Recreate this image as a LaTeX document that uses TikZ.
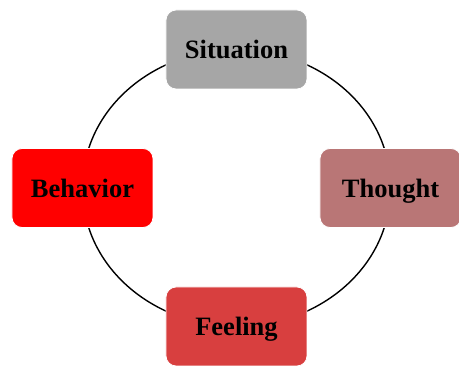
\documentclass[tikz,border=0pt]{standalone}
\usepackage{fontspec}
\setmainfont{Liberation Serif}
\usetikzlibrary{backgrounds}
\definecolor{sitgray}{HTML}{A6A6A6}
\definecolor{thored}{HTML}{B97676}
\definecolor{feelred}{HTML}{D83F3F}
\definecolor{behred}{HTML}{FF0000}
\tikzset{
  stagebox/.style={rectangle, rounded corners=10pt, minimum width=141pt,
    minimum height=79pt, font=\fontsize{26.5}{30}\selectfont\bfseries,
    text height=19pt, text depth=0pt,
    text=black, draw=white, line width=0.8pt},
  cycleline/.style={draw=black, line width=1.4pt}
}
\begin{document}
\begin{tikzpicture}
      \useasboundingbox (-236.5pt,-178pt) rectangle (222.5pt,188pt);
      \draw
        (90:154pt and 138.5pt) node[stagebox, fill=sitgray] (sit){Situation}
        (0:154pt and 138.5pt) node[stagebox, fill=thored] (tho){Thought}
        (270:154pt and 138.5pt) node[stagebox, fill=feelred] (fee){Feeling}
        (180:154pt and 138.5pt) node[stagebox, fill=behred] (beh){Behavior};
      \begin{scope}[on background layer]
        \draw[cycleline] (sit.center) to[out=0, in=90] (tho.center);
        \draw[cycleline] (tho.center) to[out=270, in=0] (fee.center);
        \draw[cycleline] (fee.center) to[out=180, in=270] (beh.center);
        \draw[cycleline] (beh.center) to[out=90, in=180] (sit.center);
      \end{scope}
    \end{tikzpicture}
\end{document}
